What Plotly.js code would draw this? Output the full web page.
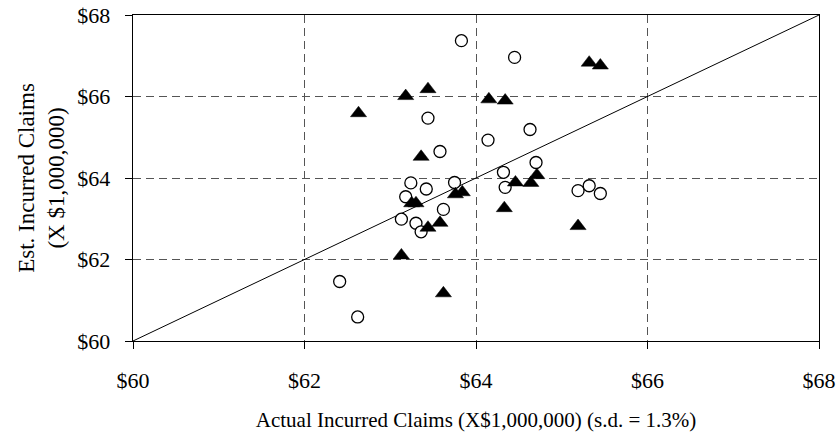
<!DOCTYPE html>
<html>
<head>
<meta charset="utf-8">
<script src="https://cdn.plot.ly/plotly-3.0.1.min.js"></script>
<style>
  html, body { margin: 0; padding: 0; background: #fff; }
  #chart { width: 836px; height: 439px; }
</style>
</head>
<body>
<div id="chart"></div>
<script>
// Open circles series (actual, estimated) in $ millions
const circleActual = [63.83, 63.44, 63.58, 63.24, 63.42, 63.75, 63.18, 64.45, 64.14, 64.63, 64.70,
                      64.32, 64.34, 65.19, 65.32, 65.45, 63.13, 63.30, 63.36, 63.62, 62.41, 62.62];
const circleEst    = [67.37, 65.47, 64.65, 63.88, 63.73, 63.89, 63.54, 66.96, 64.93, 65.19, 64.38,
                      64.14, 63.77, 63.69, 63.81, 63.62, 62.99, 62.89, 62.68, 63.23, 61.46, 60.59];

// Filled triangles series
const triActual = [63.44, 63.18, 62.63, 63.36, 63.76, 63.84, 65.32, 65.45, 64.15, 64.34, 64.71,
                   64.46, 64.64, 63.25, 63.30, 63.44, 63.58, 63.13, 63.62, 64.33, 65.19];
const triEst    = [66.18, 66.01, 65.59, 64.52, 63.60, 63.65, 66.83, 66.76, 65.93, 65.90, 64.07,
                   63.89, 63.88, 63.38, 63.38, 62.78, 62.90, 62.10, 61.17, 63.26, 62.82];

// Reference line (perfect estimate)
const refX = [60, 68];
const refY = [60, 68];

// Axis ticks
const tickVals = [60, 62, 64, 66, 68];
const tickLabels = ['$60', '$62', '$64', '$66', '$68'];

const FONT = 'Liberation Serif, Times New Roman, serif';

const traces = [
  { x: refX, y: refY, type: 'scatter', mode: 'lines',
    line: { color: '#000', width: 1 }, hoverinfo: 'skip' },
  { x: circleActual, y: circleEst, type: 'scatter', mode: 'markers',
    marker: { symbol: 'circle', size: 12, color: '#fff', line: { color: '#000', width: 1.3 } } },
  { x: triActual, y: triEst, type: 'scatter', mode: 'markers',
    marker: { symbol: 'triangle-up', size: 14, color: '#000', line: { color: '#000', width: 0.5 } } }
];

const axisCommon = {
  range: [60, 68],
  tickmode: 'array',
  tickvals: tickVals,
  ticktext: tickLabels,
  showgrid: true,
  gridcolor: '#555',
  gridwidth: 1,
  griddash: '8px,5px',
  zeroline: false,
  showline: true,
  linecolor: '#000',
  linewidth: 1.3,
  mirror: true,
  ticks: 'outside',
  ticklen: 7,
  tickcolor: '#000',
  tickfont: { family: FONT, size: 22, color: '#000' },
  fixedrange: true
};

const layout = {
  width: 836, height: 439,
  margin: { l: 133, r: 17, t: 15, b: 98 },
  paper_bgcolor: '#fff',
  plot_bgcolor: '#fff',
  showlegend: false,
  font: { family: FONT, color: '#000' },
  xaxis: Object.assign({}, axisCommon, {
    ticklabelstandoff: 12,
    title: { text: 'Actual Incurred Claims (X$1,000,000) (s.d. = 1.3%)',
             font: { family: FONT, size: 21, color: '#000' }, standoff: 20 }
  }),
  yaxis: Object.assign({}, axisCommon, {
    ticklabelstandoff: 10,
    title: { text: 'Est. Incurred Claims<br>(X $1,000,000)',
             font: { family: FONT, size: 23, color: '#000' }, standoff: 6 }
  })
};

Plotly.newPlot('chart', traces, layout, { displayModeBar: false, staticPlot: true });
</script>
</body>
</html>
